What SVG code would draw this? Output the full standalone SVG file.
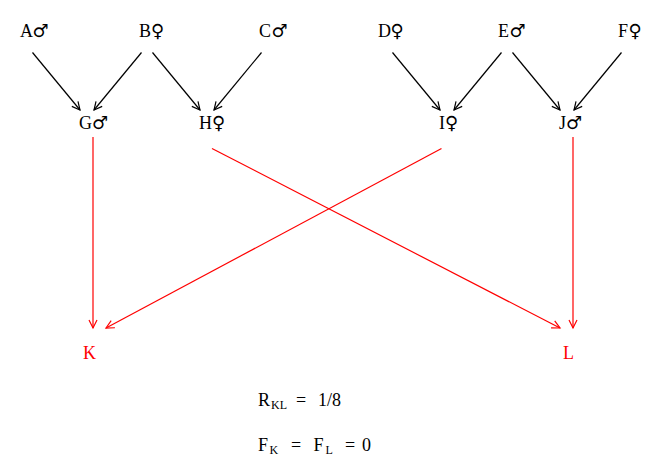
<svg xmlns="http://www.w3.org/2000/svg" width="647" height="463" viewBox="0 0 647 463">
<style>
text{font-family:"Liberation Serif","Times New Roman",serif;font-size:18px;fill:#000}
.sym{font-family:"DejaVu Sans",sans-serif;font-size:18px}
.red{fill:#ff0000}
.sub{font-size:12px}
.k{stroke:#000;stroke-width:1.2;fill:none}
.r{stroke:#ff0000;stroke-width:1.2;fill:none}
</style>
<defs>
<marker id="ak" markerUnits="userSpaceOnUse" markerWidth="12" markerHeight="12" refX="9" refY="5" orient="auto" viewBox="0 0 12 10">
<path d="M1,1 L9,5 L1,9" stroke="#000" stroke-width="1.2" fill="none"/>
</marker>
<marker id="ar" markerUnits="userSpaceOnUse" markerWidth="12" markerHeight="12" refX="9" refY="5" orient="auto" viewBox="0 0 12 10">
<path d="M1,1 L9,5 L1,9" stroke="#ff0000" stroke-width="1.2" fill="none"/>
</marker>
</defs>
<g id="connectors">
<line class="k" x1="32.5" y1="52.5" x2="80" y2="110" marker-end="url(#ak)"/>
<line class="k" x1="141.5" y1="52.5" x2="94" y2="110" marker-end="url(#ak)"/>
<line class="k" x1="152.5" y1="52.5" x2="200" y2="110" marker-end="url(#ak)"/>
<line class="k" x1="261.5" y1="52.5" x2="214" y2="110" marker-end="url(#ak)"/>
<line class="k" x1="392.5" y1="52.5" x2="440" y2="110" marker-end="url(#ak)"/>
<line class="k" x1="501.5" y1="52.5" x2="454" y2="110" marker-end="url(#ak)"/>
<line class="k" x1="512.5" y1="52.5" x2="560" y2="110" marker-end="url(#ak)"/>
<line class="k" x1="621.5" y1="52.5" x2="574" y2="110" marker-end="url(#ak)"/>
<line class="r" x1="93" y1="137" x2="93" y2="328" marker-end="url(#ar)"/>
<line class="r" x1="212" y1="148.5" x2="560" y2="328" marker-end="url(#ar)"/>
<line class="r" x1="441.5" y1="148.5" x2="106" y2="328" marker-end="url(#ar)"/>
<line class="r" x1="573" y1="137" x2="573" y2="328" marker-end="url(#ar)"/>
</g>
<g id="A"><text x="20" y="36.5">A<tspan class="sym" x="32.5">♂</tspan></text></g>
<g id="B"><text x="139" y="36.5">B<tspan class="sym" x="151">♀</tspan></text></g>
<g id="C"><text x="259" y="36.5">C<tspan class="sym" x="271.5">♂</tspan></text></g>
<g id="D"><text x="378" y="36.5">D<tspan class="sym" x="390.5">♀</tspan></text></g>
<g id="E"><text x="498" y="36.5">E<tspan class="sym" x="509.5">♂</tspan></text></g>
<g id="F"><text x="618" y="36.5">F<tspan class="sym" x="628.5">♀</tspan></text></g>
<g id="G"><text x="79" y="128.5">G<tspan class="sym" x="92">♂</tspan></text></g>
<g id="H"><text x="199" y="128.5">H<tspan class="sym" x="212">♀</tspan></text></g>
<g id="I"><text x="439" y="128.5">I<tspan class="sym" x="445">♀</tspan></text></g>
<g id="J"><text x="559" y="128.5">J<tspan class="sym" x="566">♂</tspan></text></g>
<g id="K"><text class="red" x="83" y="358.5">K</text></g>
<g id="L"><text class="red" x="563" y="358.5">L</text></g>
<g id="formulas">
<text x="258" y="406">R<tspan class="sub" x="271" dy="2.5">KL</tspan><tspan x="296" dy="-2.5">=</tspan><tspan x="318">1/8</tspan></text>
<text x="258" y="451">F<tspan class="sub" x="269.5" dy="2.5">K</tspan><tspan x="291" dy="-2.5">=</tspan><tspan x="313.5">F</tspan><tspan class="sub" x="325.5" dy="2.5">L</tspan><tspan x="345" dy="-2.5">=</tspan><tspan x="362">0</tspan></text>
</g>
</svg>
